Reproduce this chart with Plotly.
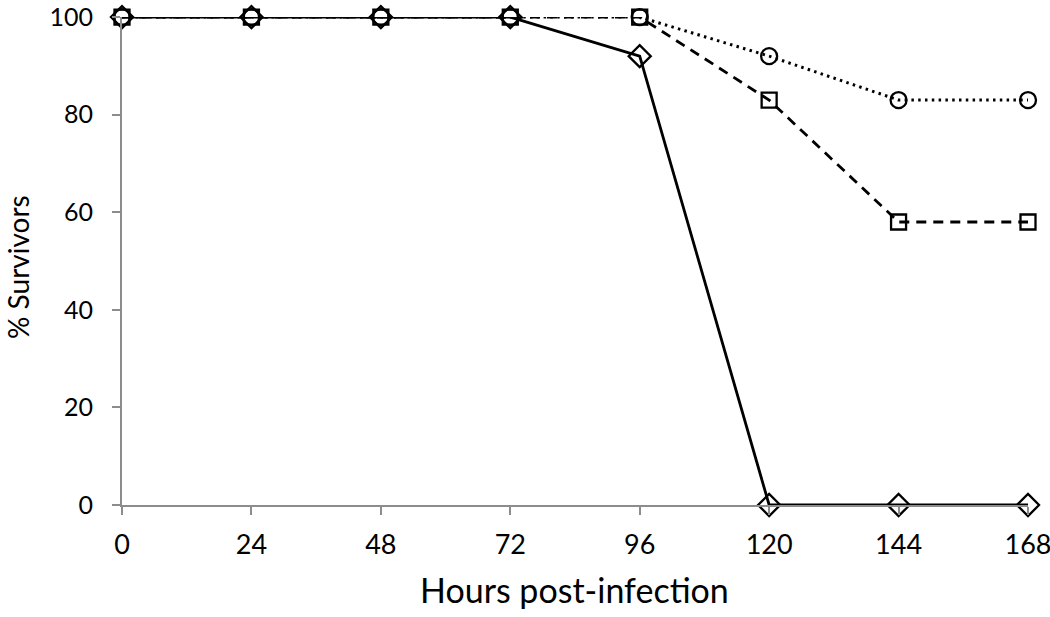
import plotly.graph_objects as go

hours = [0, 24, 48, 72, 96, 120, 144, 168]
diamond_vals = [100, 100, 100, 100, 92, 0, 0, 0]
square_vals = [100, 100, 100, 100, 100, 83, 58, 58]
circle_vals = [100, 100, 100, 100, 100, 92, 83, 83]
y_ticks = [0, 20, 40, 60, 80, 100]

fig = go.Figure()
fig.add_trace(go.Scatter(
    x=hours, y=circle_vals, mode="lines+markers", cliponaxis=False,
    line=dict(color="black", width=3, dash="2.5px,4.3px"),
    marker=dict(symbol="circle-open", size=16, color="black", line=dict(width=2.3)),
))
fig.add_trace(go.Scatter(
    x=hours, y=square_vals, mode="lines+markers", cliponaxis=False,
    line=dict(color="black", width=2.8, dash="10px,7px"),
    marker=dict(symbol="square-open", size=15, color="black", line=dict(width=2.3)),
))
fig.add_trace(go.Scatter(
    x=hours, y=diamond_vals, mode="lines+markers", cliponaxis=False,
    line=dict(color="black", width=2.8),
    marker=dict(symbol="diamond-open", size=17, color="black", line=dict(width=2.3)),
))

L, R, T, B = 122, 22, 17, 112
W, H = 1050, 617
pw, ph = W - L - R, H - T - B

fig.update_layout(
    width=W, height=H,
    margin=dict(l=L, r=R, t=T, b=B, autoexpand=False),
    paper_bgcolor="white", plot_bgcolor="white",
    showlegend=False,
    font=dict(family="Lato, Open Sans, sans-serif", color="black"),
    annotations=[
        dict(text="Hours post-infection", xref="paper", yref="paper",
             x=(574 - L) / pw, y=(H - B - 589) / ph, xanchor="center", yanchor="middle",
             showarrow=False, font=dict(size=34)),
        dict(text="% Survivors", xref="paper", yref="paper",
             x=(18 - L) / pw, y=(H - B - 267) / ph, xanchor="center", yanchor="middle",
             textangle=-90, showarrow=False, font=dict(size=28)),
    ],
)
fig.update_xaxes(
    range=[0, 168], tickvals=hours, ticktext=[str(h) for h in hours],
    showgrid=False, zeroline=False, showline=True, linecolor="#8c8c8c", linewidth=2,
    ticks="outside", ticklen=8, tickcolor="#8c8c8c", tickwidth=2,
    tickfont=dict(size=27), automargin=False, ticklabelstandoff=7,
    ticklabeloverflow="allow",
)
fig.update_yaxes(
    range=[0, 100.02], tickvals=y_ticks, ticktext=[str(v) for v in y_ticks],
    showgrid=False, zeroline=False, showline=True, linecolor="#8c8c8c", linewidth=2,
    ticks="outside", ticklen=8, tickcolor="#8c8c8c", tickwidth=2,
    tickfont=dict(size=25), automargin=False, ticklabelstandoff=14,
    ticklabeloverflow="allow",
)

fig.write_html(
    "out.html",
    config={"displayModeBar": False},
    post_script="document.body.style.margin='0px';document.body.style.overflow='hidden';",
)
